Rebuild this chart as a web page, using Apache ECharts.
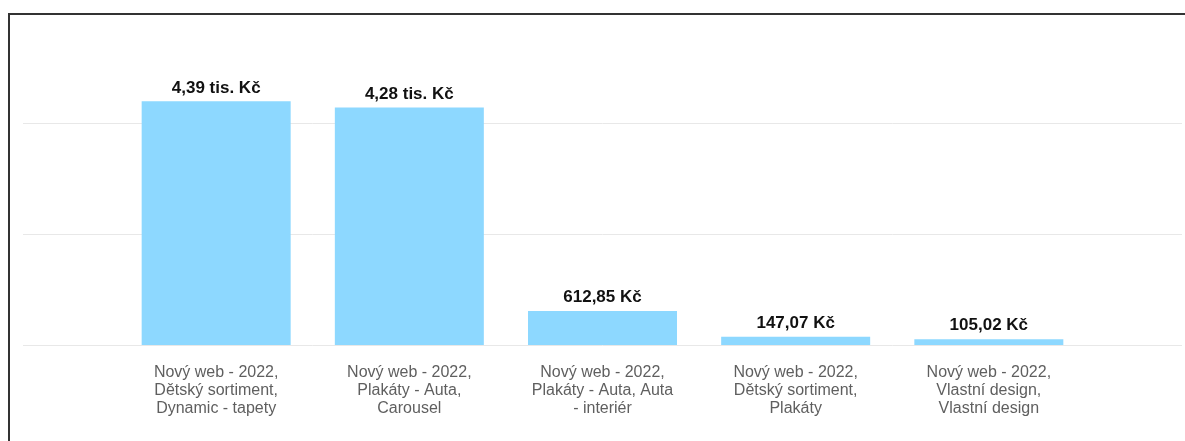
<!DOCTYPE html>
<html>
<head>
<meta charset="utf-8">
<script src="https://cdn.jsdelivr.net/npm/echarts@6/dist/echarts.min.js"></script>
<style>
  html, body { margin: 0; padding: 0; background: #fff; overflow: hidden; }
  #chart { position: absolute; left: 0; top: 0; width: 1185px; height: 441px; }
</style>
</head>
<body>
<div id="chart"></div>
<script>
// empty slots at both ends keep the bars where the original layout put them
const categories = [
  '',
  'Nový web - 2022,\nDětský sortiment,\nDynamic - tapety',
  'Nový web - 2022,\nPlakáty - Auta,\nCarousel',
  'Nový web - 2022,\nPlakáty - Auta, Auta\n- interiér',
  'Nový web - 2022,\nDětský sortiment,\nPlakáty',
  'Nový web - 2022,\nVlastní design,\nVlastní design',
  ''
]
const revenue = [null, 4390, 4280, 612.85, 147.07, 105.02, null]
const yTicks = [0, 2000, 4000, 6000]

function formatCzk(v) {
  if (v >= 1000) {
    return (v / 1000).toFixed(2).replace('.', ',') + ' tis. Kč'
  }
  return v.toFixed(2).replace('.', ',') + ' Kč'
}

let chart = echarts.init(document.getElementById('chart'))
chart.setOption({
  animation: false,
  backgroundColor: '#fff',
  // frame of the screenshot: only the top and left edges are visible
  graphic: [
    { type: 'line', shape: { x1: 8, y1: 14, x2: 1185, y2: 14 }, style: { stroke: '#333', lineWidth: 2 }, silent: true },
    { type: 'line', shape: { x1: 9, y1: 13, x2: 9, y2: 441 }, style: { stroke: '#333', lineWidth: 2 }, silent: true }
  ],
  grid: { left: 23, right: 0, top: 12, bottom: 96, containLabel: false },
  xAxis: {
    type: 'category',
    data: categories,
    boundaryGap: false,
    axisLine: { show: false },
    axisTick: { show: false },
    splitLine: { show: false },
    axisLabel: {
      interval: 0,
      margin: 19,
      color: '#5f5f5f',
      fontFamily: 'Liberation Sans, Arial, sans-serif',
      fontSize: 16,
      lineHeight: 18
    }
  },
  yAxis: {
    type: 'value',
    min: yTicks[0],
    max: yTicks[yTicks.length - 1],
    interval: yTicks[1] - yTicks[0],
    axisLabel: { show: false },
    axisLine: { show: false },
    axisTick: { show: false },
    splitLine: {
      showMaxLine: false,
      lineStyle: { color: '#e8e8e8', width: 1 }
    }
  },
  series: [
    {
      type: 'bar',
      data: revenue,
      barWidth: 149,
      itemStyle: { color: '#8dd8ff' },
      label: {
        show: true,
        position: 'top',
        distance: 5,
        color: '#111',
        fontFamily: 'Liberation Sans, Arial, sans-serif',
        fontWeight: 'bold',
        fontSize: 17,
        formatter: p => formatCzk(p.value)
      }
    }
  ]
})
</script>
</body>
</html>
